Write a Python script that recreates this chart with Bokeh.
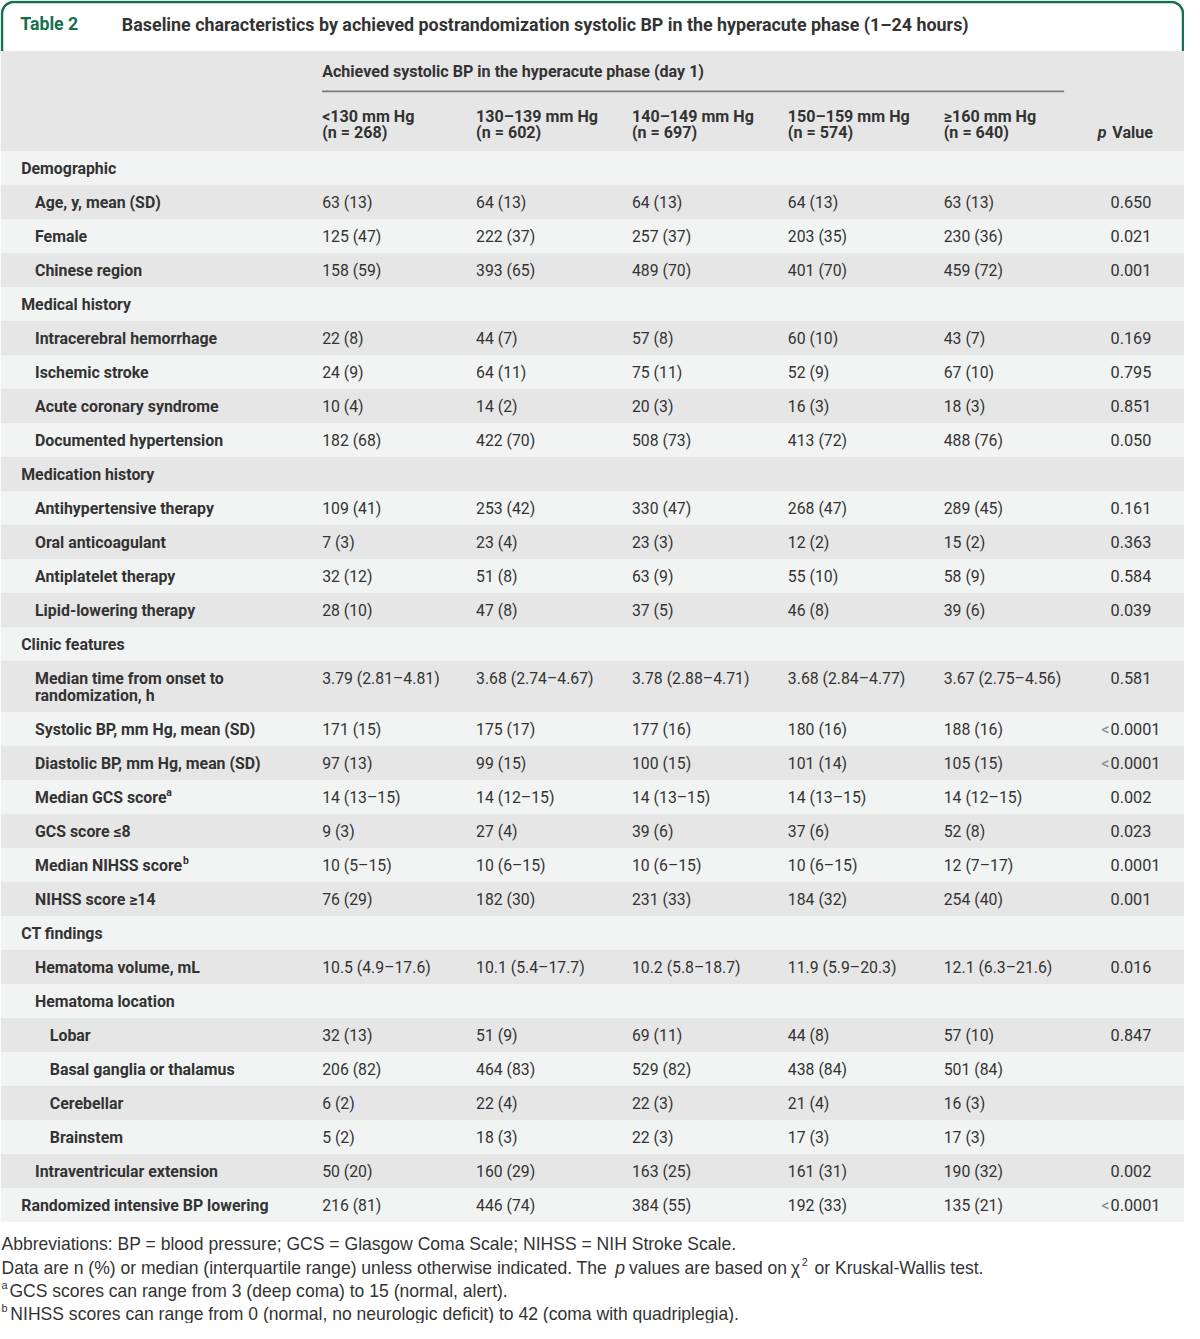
import numpy as np
from bokeh.plotting import figure
from bokeh.models import Range1d, ColumnDataSource
from bokeh.embed import file_html
from bokeh.resources import INLINE
from bokeh.core.properties import value

# ---------------- data ----------------
table_tag = "Table 2"
table_title = "Baseline characteristics by achieved postrandomization systolic BP in the hyperacute phase (1–24 hours)"
spanner = "Achieved systolic BP in the hyperacute phase (day 1)"
col_heads = ["<130 mm Hg", "130–139 mm Hg", "140–149 mm Hg", "150–159 mm Hg", "≥160 mm Hg"]
col_ns = ["(n = 268)", "(n = 602)", "(n = 697)", "(n = 574)", "(n = 640)"]

labels = [
    "Demographic", "Age, y, mean (SD)", "Female", "Chinese region",
    "Medical history", "Intracerebral hemorrhage", "Ischemic stroke", "Acute coronary syndrome", "Documented hypertension",
    "Medication history", "Antihypertensive therapy", "Oral anticoagulant", "Antiplatelet therapy", "Lipid-lowering therapy",
    "Clinic features", "Median time from onset to\nrandomization, h", "Systolic BP, mm Hg, mean (SD)",
    "Diastolic BP, mm Hg, mean (SD)", "Median GCS score", "GCS score ≤8", "Median NIHSS score", "NIHSS score ≥14",
    "CT findings", "Hematoma volume, mL", "Hematoma location", "Lobar", "Basal ganglia or thalamus", "Cerebellar",
    "Brainstem", "Intraventricular extension", "Randomized intensive BP lowering",
]
label_sups = ["", "", "", "", "", "", "", "", "", "", "", "", "", "", "", "", "", "",
              "a", "", "b", "", "", "", "", "", "", "", "", "", ""]
levels = [0, 1, 1, 1, 0, 1, 1, 1, 1, 0, 1, 1, 1, 1, 0, 1, 1, 1, 1, 1, 1, 1, 0, 1, 1, 2, 2, 2, 2, 1, 0]

col1 = ["", "63 (13)", "125 (47)", "158 (59)", "", "22 (8)", "24 (9)", "10 (4)", "182 (68)", "", "109 (41)", "7 (3)",
        "32 (12)", "28 (10)", "", "3.79 (2.81–4.81)", "171 (15)", "97 (13)", "14 (13–15)", "9 (3)", "10 (5–15)",
        "76 (29)", "", "10.5 (4.9–17.6)", "", "32 (13)", "206 (82)", "6 (2)", "5 (2)", "50 (20)", "216 (81)"]
col2 = ["", "64 (13)", "222 (37)", "393 (65)", "", "44 (7)", "64 (11)", "14 (2)", "422 (70)", "", "253 (42)", "23 (4)",
        "51 (8)", "47 (8)", "", "3.68 (2.74–4.67)", "175 (17)", "99 (15)", "14 (12–15)", "27 (4)", "10 (6–15)",
        "182 (30)", "", "10.1 (5.4–17.7)", "", "51 (9)", "464 (83)", "22 (4)", "18 (3)", "160 (29)", "446 (74)"]
col3 = ["", "64 (13)", "257 (37)", "489 (70)", "", "57 (8)", "75 (11)", "20 (3)", "508 (73)", "", "330 (47)", "23 (3)",
        "63 (9)", "37 (5)", "", "3.78 (2.88–4.71)", "177 (16)", "100 (15)", "14 (13–15)", "39 (6)", "10 (6–15)",
        "231 (33)", "", "10.2 (5.8–18.7)", "", "69 (11)", "529 (82)", "22 (3)", "22 (3)", "163 (25)", "384 (55)"]
col4 = ["", "64 (13)", "203 (35)", "401 (70)", "", "60 (10)", "52 (9)", "16 (3)", "413 (72)", "", "268 (47)", "12 (2)",
        "55 (10)", "46 (8)", "", "3.68 (2.84–4.77)", "180 (16)", "101 (14)", "14 (13–15)", "37 (6)", "10 (6–15)",
        "184 (32)", "", "11.9 (5.9–20.3)", "", "44 (8)", "438 (84)", "21 (4)", "17 (3)", "161 (31)", "192 (33)"]
col5 = ["", "63 (13)", "230 (36)", "459 (72)", "", "43 (7)", "67 (10)", "18 (3)", "488 (76)", "", "289 (45)", "15 (2)",
        "58 (9)", "39 (6)", "", "3.67 (2.75–4.56)", "188 (16)", "105 (15)", "14 (12–15)", "52 (8)", "12 (7–17)",
        "254 (40)", "", "12.1 (6.3–21.6)", "", "57 (10)", "501 (84)", "16 (3)", "17 (3)", "190 (32)", "135 (21)"]
pvals = ["", "0.650", "0.021", "0.001", "", "0.169", "0.795", "0.851", "0.050", "", "0.161", "0.363", "0.584",
         "0.039", "", "0.581", "<0.0001", "<0.0001", "0.002", "0.023", "0.0001", "0.001", "", "0.016", "",
         "0.847", "", "", "", "0.002", "<0.0001"]

footer_1 = "Abbreviations: BP = blood pressure; GCS = Glasgow Coma Scale; NIHSS = NIH Stroke Scale."
footer_2a = "Data are n (%) or median (interquartile range) unless otherwise indicated. The"
footer_2b = "values are based on"
footer_2c = "or Kruskal-Wallis test."
footer_3 = "GCS scores can range from 3 (deep coma) to 15 (normal, alert)."
footer_4 = "NIHSS scores can range from 0 (normal, no neurologic deficit) to 42 (coma with quadriplegia)."

# ---------------- style / layout ----------------
FONT = "Roboto"
FFONT = "Liberation Sans"
TXT = "#333333"
GREEN = "#16704f"
LIGHT = "#f2f3f3"
DARK = "#e6e6e6"
W, H = 1184, 1323
REF_W, REF_H = 1200, 1339
S = W / REF_W  # font scale so the layout keeps the reference proportions


def fs(px):
    return f"{px * S:.2f}px"


p = figure(width=W, height=H, x_range=Range1d(0, REF_W), y_range=Range1d(REF_H, 0),
           output_backend="svg", toolbar_location=None, min_border=0)
p.axis.visible = False
p.grid.visible = False
p.outline_line_color = None
p.background_fill_color = "white"
p.border_fill_color = "white"

# title bar border (rounded top corners)
r = 12
top, bot, lx, rx = 1.5, 51, 1.5, 1198.5
th = np.linspace(np.pi, 1.5 * np.pi, 14)
xs = [lx] + list(lx + r + r * np.cos(th)) + list(rx - r - r * np.cos(th[::-1])) + [rx]
ys = [bot] + list(top + r + r * np.sin(th)) + list(top + r + r * np.sin(th[::-1])) + [bot]
p.line(xs, ys, line_color=GREEN, line_width=2.5)
p.text([20], [24], text=[table_tag], text_font=value(FONT), text_font_style="bold",
       text_font_size=fs(18), text_color=GREEN, text_baseline="middle")
p.text([123], [24], text=[table_title], text_font=value(FONT), text_font_style="bold",
       text_font_size=fs(18.1), text_color=TXT, text_baseline="middle")

# header band
HEAD_TOP, HEAD_BOT = 51, 152.5
p.quad(left=0, right=REF_W, top=HEAD_TOP, bottom=HEAD_BOT, fill_color=DARK, line_color=None)
col_x = [326, 482, 640, 798, 956]
P_X = 1125
HFS = fs(16.3)
p.text([col_x[0]], [72], text=[spanner], text_font=value(FONT), text_font_style="bold",
       text_font_size=HFS, text_color=TXT, text_baseline="middle")
p.line([col_x[0], 1078], [92, 92], line_color="#7a7a7a", line_width=1.6)
hsrc = ColumnDataSource(dict(x=col_x, a=col_heads, b=col_ns))
p.text("x", 117, text="a", source=hsrc, text_font=value(FONT), text_font_style="bold",
       text_font_size=HFS, text_color=TXT, text_baseline="middle")
p.text("x", 134, text="b", source=hsrc, text_font=value(FONT), text_font_style="bold",
       text_font_size=HFS, text_color=TXT, text_baseline="middle")
p.text([1168], [134], text=["Value"], text_font=value(FONT), text_font_style="bold",
       text_font_size=HFS, text_color=TXT, text_baseline="middle", text_align="right")
p.text([1121], [134], text=["p"], text_font=value(FONT), text_font_style="bold italic",
       text_font_size=HFS, text_color=TXT, text_baseline="middle", text_align="right")

# body rows
ROW_H = 34.4
LINE_H = 17.4
tops, heights = [], []
y = HEAD_BOT
for lab in labels:
    n = lab.count("\n") + 1
    h = ROW_H + (n - 1) * LINE_H
    tops.append(y)
    heights.append(h)
    y += h
fills = [LIGHT if i % 2 == 0 else DARK for i in range(len(labels))]
p.quad(left=0, right=REF_W, top=tops, bottom=[t + h for t, h in zip(tops, heights)],
       fill_color=fills, line_color=None)

indent = {0: 21, 1: 35, 2: 50}
lab_x, lab_y, lab_t = [], [], []
for i, lab in enumerate(labels):
    for k, part in enumerate(lab.split("\n")):
        lab_x.append(indent[levels[i]])
        lab_y.append(tops[i] + 17.2 + k * LINE_H)
        lab_t.append(part)
p.text(lab_x, lab_y, text=lab_t, text_font=value(FONT), text_font_style="bold",
       text_font_size=fs(16.1), text_color=TXT, text_baseline="middle")

# superscripts on labels
sup_x = {"a": 168, "b": 185}
sx, sy, st = [], [], []
for i, s in enumerate(label_sups):
    if s:
        sx.append(sup_x[s]); sy.append(tops[i] + 12.5); st.append(s)
p.text(sx, sy, text=st, text_font=value(FONT), text_font_style="bold",
       text_font_size=fs(10.5), text_color=TXT, text_baseline="middle")

row_y = [t + 17.2 for t in tops]
VFS = fs(16)
for cx, col in zip(col_x, [col1, col2, col3, col4, col5]):
    p.text([cx] * len(col), row_y, text=col, text_font=value(FONT),
           text_font_size=VFS, text_color=TXT, text_baseline="middle")

# p values: left aligned, with the "<" sign hanging to the left in a lighter grey
p_num = [v.lstrip("<") for v in pvals]
p_lt_y = [yy for yy, v in zip(row_y, pvals) if v.startswith("<")]
p.text([P_X] * len(p_num), row_y, text=p_num, text_font=value(FONT),
       text_font_size=fs(16.5), text_color=TXT, text_baseline="middle")
p.text([P_X - 1] * len(p_lt_y), p_lt_y, text=["<"] * len(p_lt_y), text_font=value(FONT),
       text_font_size=fs(16.5), text_color="#8a8a8a", text_baseline="middle", text_align="right")

# footer
fy = [1259, 1282.5, 1306, 1329]
fk = dict(text_font=value(FFONT), text_font_size=fs(17.8), text_color=TXT, text_baseline="middle")
sk = dict(text_font=value(FFONT), text_font_size=fs(11), text_color=TXT, text_baseline="middle")
p.text([1], [fy[0]], text=[footer_1], **fk)
p.text([1], [fy[1]], text=[footer_2a], **fk)
p.text([623], [fy[1]], text=["p"], text_font_style="italic", **fk)
p.text([637], [fy[1]], text=[footer_2b], **fk)
p.text([801], [fy[1]], text=["χ"], **fk)
p.text([812], [fy[1] - 6], text=["2"], **sk)
p.text([825], [fy[1]], text=[footer_2c], **fk)
p.text([1], [fy[2] - 6], text=["a"], **sk)
p.text([9], [fy[2]], text=[footer_3], **fk)
p.text([1], [fy[3] - 6], text=["b"], **sk)
p.text([10], [fy[3]], text=[footer_4], **fk)

open("out.html", "w").write(file_html(p, INLINE))
